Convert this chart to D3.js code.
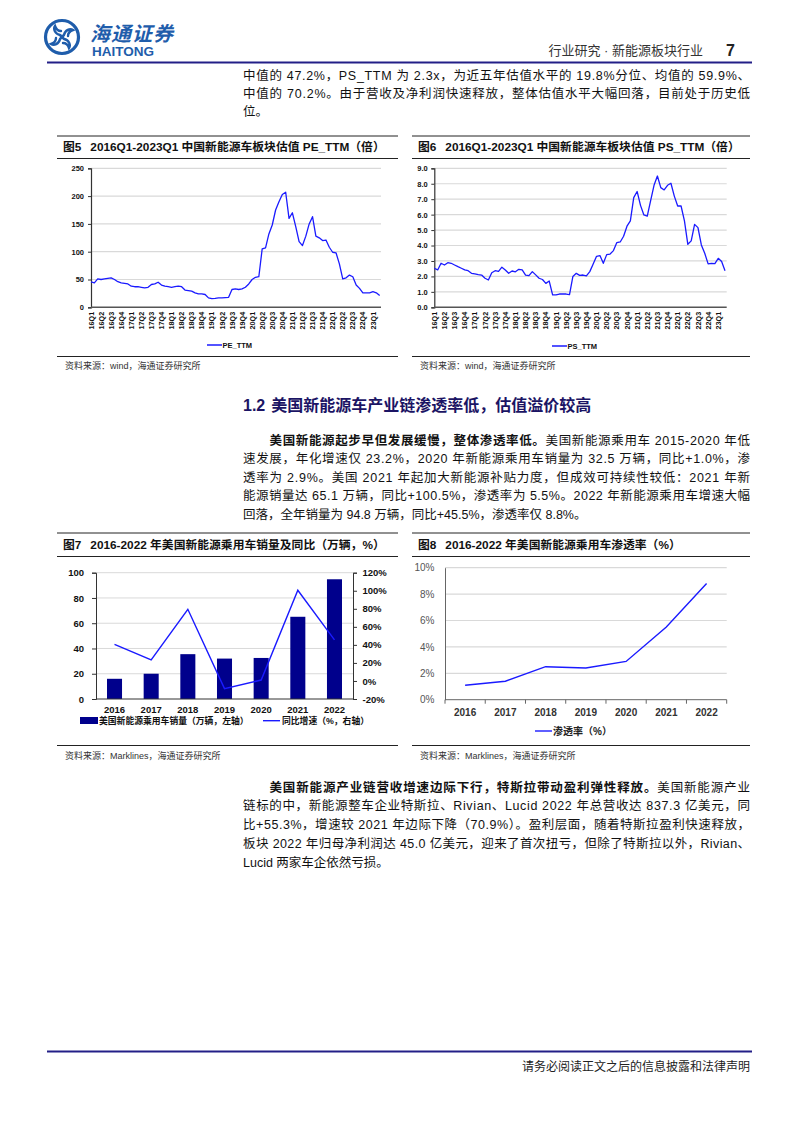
<!DOCTYPE html>
<html><head><meta charset="utf-8">
<script src="https://cdn.jsdelivr.net/npm/d3@7/dist/d3.min.js"></script>
<style>
html,body{margin:0;padding:0;background:#fff;}
svg{display:block;}
text{font-family:"Liberation Sans","Noto Sans CJK SC",sans-serif;}
</style></head><body>
<svg id="page" width="794" height="1123"></svg>
<script>
// ---------------- DATA ----------------
const quarterLabels = ["16Q1","16Q2","16Q3","16Q4","17Q1","17Q2","17Q3","17Q4","18Q1","18Q2","18Q3","18Q4",
  "19Q1","19Q2","19Q3","19Q4","20Q1","20Q2","20Q3","20Q4","21Q1","21Q2","21Q3","21Q4","22Q1","22Q2","22Q3","22Q4","23Q1"];
// monthly PE_TTM, 2016-01 .. 2023-03
const peTTM = [45.6,44,51,50,51,52,53,50,46,44,
  43,42,38,37,37,36,35,36,41,42,
  45,40,38,37,36,37,38,37,31,30,
  29,26,24,24,23,17,15.5,16,17,17,
  17.5,18,32,33,32,33,36,42,50,54,
  55,105,107,132,148,175,190,203,207,160,
  170,145,118,111,128,150,163,128,125,120,
  121,108,99,98,78,51,53,58,55,40,
  34,26,26,26,28,26,21];
// monthly PS_TTM, 2016-01 .. 2023-03
const psTTM = [2.53,2.42,2.85,2.74,2.89,2.85,2.74,2.63,2.53,2.42,
  2.37,2.2,2.16,2.12,2.09,1.88,1.77,2.24,2.37,2.33,
  2.6,2.42,2.2,2.35,2.3,2.46,2.42,2.09,2.05,2.31,
  2.1,1.88,1.8,1.55,1.7,0.8,0.8,0.86,0.86,0.86,
  0.82,2.0,2.2,2.07,2.09,2.03,2.31,2.8,3.3,3.35,
  2.85,3.41,3.45,3.67,4.19,4.23,4.6,5.25,5.6,7.1,
  7.5,6.6,5.98,5.9,6.9,7.9,8.5,7.75,7.6,7.9,
  8.03,7.2,6.56,6.56,5.6,4.08,4.3,5.37,5.16,4.04,
  3.5,2.81,2.85,2.83,3.17,2.96,2.37];
const peTicks = [0,50,100,150,200,250];
const psTicks = [0,1,2,3,4,5,6,7,8,9];

const years = ["2016","2017","2018","2019","2020","2021","2022"];
const evSales = [16.0,20.0,35.5,32.0,32.5,65.1,94.8];       // 万辆
const evYoY = [40.6,23.3,79.4,-8.5,1.0,100.5,45.5];        // %
const penetration = [1.1,1.4,2.5,2.4,2.9,5.5,8.8];          // %
const salesTicks = [0,20,40,60,80,100];
const yoyTicks = [-20,0,20,40,60,80,100,120];
const penTicks = [0,2,4,6,8,10];

// ---------------- PAGE ----------------
const svg = d3.select('#page');
const NAVY = '#231f87';
const LOGO = '#1f5dab';
const LINEBLUE = '#1a1aff';
const FONT = '"Liberation Sans","Noto Sans CJK SC",sans-serif';

function hline(x1,x2,y,w,c){
  svg.append('line').attr('x1',x1).attr('x2',x2).attr('y1',y).attr('y2',y)
    .attr('stroke',c).attr('stroke-width',w);
}

// header logo
const logo = svg.append('g').attr('transform','translate(62,37)');
logo.append('circle').attr('r',16.5).attr('fill','none').attr('stroke',LOGO).attr('stroke-width',3.2);
[0,90,180,270].forEach(a=>{
  logo.append('path').attr('transform',`rotate(${a})`)
    .attr('d','M2,-2 C3,-7 8,-9 11,-7 C8,-6 6,-4 6,-1')
    .attr('fill','none').attr('stroke',LOGO).attr('stroke-width',2.4).attr('stroke-linecap','round');
});
logo.append('circle').attr('r',2.4).attr('fill',LOGO);
svg.append('text').attr('x',90).attr('y',41).attr('font-size',20).attr('font-weight','bold')
  .attr('fill',LOGO).attr('font-style','italic').attr('letter-spacing',1).text('海通证券');
svg.append('text').attr('x',92).attr('y',56).attr('font-size',13.5).attr('font-weight','bold')
  .attr('fill',LOGO).text('HAITONG');
svg.append('text').attr('x',703).attr('y',55).attr('text-anchor','end').attr('font-size',13)
  .attr('fill','#333').text('行业研究 · 新能源板块行业');
svg.append('text').attr('x',726).attr('y',56).attr('font-size',16).attr('font-weight','bold')
  .attr('fill','#222').text('7');
hline(47,752,62.5,2.2,NAVY);

// justified paragraph lines
function paragraph(lines, y0, lh){
  lines.forEach((l,i)=>{
    const x = 243 + (l.indent ? 26.5 : 0);
    const t = svg.append('text').attr('x',x).attr('y',y0+i*lh).attr('font-size',12.5).attr('fill','#111');
    if(l.justify) t.attr('textLength',750-x).attr('lengthAdjust','spacing');
    l.parts.forEach(p=>{
      const s = t.append('tspan').text(p[0]);
      if(p[1]) s.attr('font-weight','bold');
    });
  });
}
paragraph([
  {justify:true, parts:[['中值的 47.2%，PS_TTM 为 2.3x，为近五年估值水平的 19.8%分位、均值的 59.9%、']]},
  {justify:true, parts:[['中值的 70.2%。由于营收及净利润快速释放，整体估值水平大幅回落，目前处于历史低']]},
  {justify:false, parts:[['位。']]}
], 79.5, 18);

// section heading
const sh = svg.append('text').attr('x',243).attr('y',411).attr('font-size',16).attr('font-weight','bold')
  .attr('fill','#1b1464');
sh.append('tspan').text('1.2');
sh.append('tspan').attr('dx',6).text('美国新能源车产业链渗透率低，估值溢价较高');

paragraph([
  {indent:true, justify:true, parts:[['美国新能源起步早但发展缓慢，整体渗透率低。',true],['美国新能源乘用车 2015-2020 年低']]},
  {justify:true, parts:[['速发展，年化增速仅 23.2%，2020 年新能源乘用车销量为 32.5 万辆，同比+1.0%，渗']]},
  {justify:true, parts:[['透率为 2.9%。美国 2021 年起加大新能源补贴力度，但成效可持续性较低：2021 年新']]},
  {justify:true, parts:[['能源销量达 65.1 万辆，同比+100.5%，渗透率为 5.5%。2022 年新能源乘用车增速大幅']]},
  {justify:false, parts:[['回落，全年销量为 94.8 万辆，同比+45.5%，渗透率仅 8.8%。']]}
], 444.5, 18.5);

paragraph([
  {indent:true, justify:true, parts:[['美国新能源产业链营收增速边际下行，特斯拉带动盈利弹性释放。',true],['美国新能源产业']]},
  {justify:true, parts:[['链标的中，新能源整车企业特斯拉、Rivian、Lucid 2022 年总营收达 837.3 亿美元，同']]},
  {justify:true, parts:[['比+55.3%，增速较 2021 年边际下降（70.9%）。盈利层面，随着特斯拉盈利快速释放，']]},
  {justify:true, parts:[['板块 2022 年归母净利润达 45.0 亿美元，迎来了首次扭亏，但除了特斯拉以外，Rivian、']]},
  {justify:false, parts:[['Lucid 两家车企依然亏损。']]}
], 791.5, 18.8);

// footer
hline(47,752,1051.5,2.2,NAVY);
svg.append('text').attr('x',750).attr('y',1071).attr('text-anchor','end').attr('font-size',12)
  .attr('fill','#222').text('请务必阅读正文之后的信息披露和法律声明');

// chart frames
function frame(x1,x2,yTop,yUnder,yBottom,num,title,source,ySrc){
  hline(x1,x2,yTop,1,'#222');
  hline(x1,x2,yUnder,1,'#222');
  hline(x1,x2,yBottom,1,'#222');
  const t = svg.append('text').attr('x',x1+6).attr('y',(yTop+yUnder)/2+4.2).attr('font-size',11.8)
    .attr('font-weight','bold').attr('fill','#111');
  t.append('tspan').text(num);
  t.append('tspan').attr('dx',9).text(title);
  svg.append('text').attr('x',x1+8).attr('y',ySrc).attr('font-size',9)
    .attr('fill','#333').text(source);
}
frame(57,398,136,158.5,356.5,'图5','2016Q1-2023Q1 中国新能源车板块估值 PE_TTM（倍）','资料来源：wind，海通证券研究所',368.5);
frame(412,750,136,158.5,356.5,'图6','2016Q1-2023Q1 中国新能源车板块估值 PS_TTM（倍）','资料来源：wind，海通证券研究所',368.5);
frame(57,398,533,556.5,745.5,'图7','2016-2022 年美国新能源乘用车销量及同比（万辆，%）','资料来源：Marklines，海通证券研究所',759);
frame(412,750,533,556.5,745.5,'图8','2016-2022 年美国新能源乘用车渗透率（%）','资料来源：Marklines，海通证券研究所',759);

// ---------- valuation line charts ----------
function valuationChart(o){
  const g = svg.append('g');
  const x = d3.scaleLinear().domain([0, o.data.length - 1 + o.extra]).range([o.x0, o.x1]);
  const y = d3.scaleLinear().domain([o.ticks[0], o.ticks[o.ticks.length-1]]).range([o.yb, o.yt]);
  g.selectAll('line.grid').data(o.ticks.slice(1)).join('line').attr('class','grid')
    .attr('x1',o.x0).attr('x2',o.x1).attr('y1',d=>y(d)).attr('y2',d=>y(d))
    .attr('stroke','#d9d9d9').attr('stroke-width',1.2);
  const yg = g.append('g').attr('transform',`translate(${o.x0},0)`)
    .call(d3.axisLeft(y).tickValues(o.ticks).tickSize(3).tickPadding(o.pad).tickFormat(o.fmt));
  yg.attr('font-family',FONT).attr('font-size',7.5).attr('font-weight','bold');
  yg.select('.domain').attr('stroke','#333').attr('stroke-width',1.2);
  yg.selectAll('.tick line').attr('stroke','#333');
  yg.selectAll('text').attr('fill','#111');
  g.append('line').attr('x1',o.x0).attr('x2',o.x1).attr('y1',o.yb).attr('y2',o.yb)
    .attr('stroke','#555').attr('stroke-width',1.5);
  g.selectAll('text.xl').data(quarterLabels).join('text').attr('class','xl')
    .attr('transform',(d,i)=>`translate(${x(i*3)+2.6},${o.yb+4.5}) rotate(-90)`)
    .attr('text-anchor','end').attr('font-size',7.2).attr('font-weight','bold').attr('fill','#111')
    .text(d=>d);
  const line = d3.line().x((d,i)=>x(i)).y(d=>y(d));
  g.append('path').datum(o.data).attr('d',line).attr('fill','none')
    .attr('stroke',LINEBLUE).attr('stroke-width',1.3).attr('stroke-linejoin','round');
  g.append('line').attr('x1',o.lx).attr('x2',o.lx+15).attr('y1',o.ly).attr('y2',o.ly)
    .attr('stroke',LINEBLUE).attr('stroke-width',1.5);
  g.append('text').attr('x',o.lx+15.5).attr('y',o.ly+2.7).attr('font-size',7.5).attr('font-weight','bold')
    .attr('fill','#111').text(o.name);
}
valuationChart({data:peTTM, ticks:peTicks, fmt:d3.format('d'), x0:91, x1:381, extra:0.4,
  yb:307.3, yt:168.3, pad:4, lx:207, ly:345, name:'PE_TTM'});
valuationChart({data:psTTM, ticks:psTicks, fmt:d3.format('.1f'), x0:434.3, x1:726.7, extra:0.5,
  yb:307.3, yt:168.3, pad:3.5, lx:552, ly:346, name:'PS_TTM'});

// ---------- chart 7: bar + line ----------
(function(){
  const g = svg.append('g');
  const x0 = 96, x1 = 353, yb = 699, yt = 572.7;
  const x = d3.scaleBand().domain(years).range([x0,x1]).paddingInner(0.59).paddingOuter(0.3);
  const yL = d3.scaleLinear().domain([0,100]).range([yb,yt]);
  const yR = d3.scaleLinear().domain([-20,120]).range([yb,yt]);
  g.selectAll('line.grid').data(salesTicks.slice(1)).join('line').attr('class','grid')
    .attr('x1',x0).attr('x2',x1).attr('y1',d=>yL(d)).attr('y2',d=>yL(d))
    .attr('stroke','#d9d9d9').attr('stroke-width',1);
  g.selectAll('rect.bar').data(evSales).join('rect').attr('class','bar')
    .attr('x',(d,i)=>x(years[i])).attr('width',x.bandwidth())
    .attr('y',d=>yL(d)).attr('height',d=>yb-yL(d)).attr('fill','#00008c');
  const la = g.append('g').attr('transform',`translate(${x0},0)`)
    .call(d3.axisLeft(yL).tickValues(salesTicks).tickSize(4).tickPadding(8));
  const ra = g.append('g').attr('transform',`translate(${x1},0)`)
    .call(d3.axisRight(yR).tickValues(yoyTicks).tickSize(4).tickPadding(5.5).tickFormat(d=>d+'%'));
  [la,ra].forEach(a=>{
    a.attr('font-family',FONT).attr('font-size',9.5).attr('font-weight','bold');
    a.select('.domain').attr('stroke','#333');
    a.selectAll('.tick line').attr('stroke','#333');
    a.selectAll('text').attr('fill','#111');
  });
  g.append('line').attr('x1',x0).attr('x2',x1).attr('y1',yb).attr('y2',yb).attr('stroke','#333');
  g.selectAll('text.xl').data(years).join('text').attr('class','xl')
    .attr('x',d=>x(d)+x.bandwidth()/2).attr('y',712.5).attr('text-anchor','middle')
    .attr('font-size',9.5).attr('font-weight','bold').attr('fill','#111').text(d=>d);
  const line = d3.line().x((d,i)=>x(years[i])+x.bandwidth()/2).y(d=>yR(d));
  g.append('path').datum(evYoY).attr('d',line).attr('fill','none')
    .attr('stroke',LINEBLUE).attr('stroke-width',1.4);
  g.append('rect').attr('x',80).attr('y',717).attr('width',18).attr('height',7).attr('fill','#00008c');
  g.append('text').attr('x',99).attr('y',724).attr('font-size',8.8).attr('font-weight','bold')
    .attr('fill','#111').text('美国新能源乘用车销量（万辆，左轴）');
  g.append('line').attr('x1',263).attr('x2',280).attr('y1',720.7).attr('y2',720.7)
    .attr('stroke',LINEBLUE).attr('stroke-width',1.4);
  g.append('text').attr('x',282).attr('y',724).attr('font-size',8.8).attr('font-weight','bold')
    .attr('fill','#111').text('同比增速（%，右轴）');
})();

// ---------- chart 8: penetration ----------
(function(){
  const g = svg.append('g');
  const x0 = 445, x1 = 726.7, yb = 699.7, yt = 567.7;
  const x = d3.scaleBand().domain(years).range([x0,x1]);
  const y = d3.scaleLinear().domain([0,10]).range([yb,yt]);
  g.selectAll('line.grid').data(penTicks.slice(1)).join('line').attr('class','grid')
    .attr('x1',x0).attr('x2',x1).attr('y1',d=>y(d)).attr('y2',d=>y(d))
    .attr('stroke','#d9d9d9').attr('stroke-width',1.2);
  const ya = g.append('g').attr('transform',`translate(${x0},0)`)
    .call(d3.axisLeft(y).tickValues(penTicks).tickSize(0).tickPadding(10.5).tickFormat(d=>d+'%'));
  ya.attr('font-family',FONT).attr('font-size',10);
  ya.select('.domain').attr('stroke','#666');
  ya.selectAll('text').attr('fill','#555');
  g.append('line').attr('x1',x0).attr('x2',x1).attr('y1',yb).attr('y2',yb).attr('stroke','#666');
  const bounds = years.map(d=>x(d)).concat([x1]);
  g.selectAll('line.xt').data(bounds).join('line').attr('class','xt')
    .attr('x1',d=>d).attr('x2',d=>d).attr('y1',yb).attr('y2',yb+4).attr('stroke','#666');
  g.selectAll('text.xl').data(years).join('text').attr('class','xl')
    .attr('x',d=>x(d)+x.bandwidth()/2).attr('y',715.5).attr('text-anchor','middle')
    .attr('font-size',10).attr('font-weight','bold').attr('fill','#333').text(d=>d);
  const line = d3.line().x((d,i)=>x(years[i])+x.bandwidth()/2).y(d=>y(d));
  g.append('path').datum(penetration).attr('d',line).attr('fill','none')
    .attr('stroke',LINEBLUE).attr('stroke-width',1.4);
  g.append('line').attr('x1',535).attr('x2',552).attr('y1',731).attr('y2',731)
    .attr('stroke',LINEBLUE).attr('stroke-width',1.4);
  g.append('text').attr('x',553).attr('y',734.5).attr('font-size',10).attr('font-weight','bold')
    .attr('fill','#222').text('渗透率（%）');
})();
</script>
</body></html>
